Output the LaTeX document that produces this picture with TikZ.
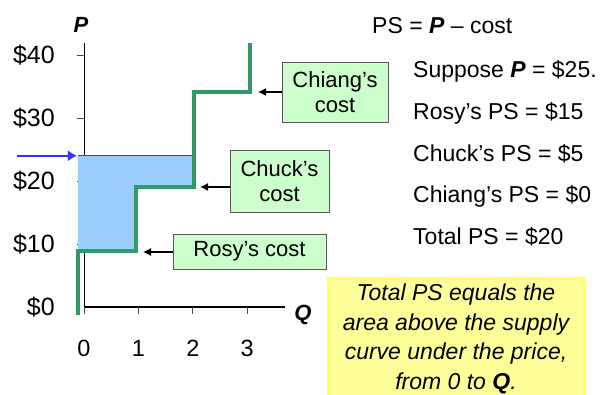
\documentclass[tikz,border=0pt]{standalone}
\usepackage{fontspec}
\setmainfont{Liberation Sans}
\usetikzlibrary{arrows.meta}
\definecolor{supplygreen}{HTML}{339966}
\definecolor{psblue}{HTML}{99CCFF}
\definecolor{priceblue}{HTML}{3333FF}
\definecolor{costgreen}{HTML}{CCFFCC}
\definecolor{noteyellow}{HTML}{FFFF99}
\definecolor{noteedge}{HTML}{FFFF55}

\begin{document}
\begin{tikzpicture}[x=54.4pt, y=6.3pt,
    costbox/.style={draw=black!65, fill=costgreen, align=center, inner sep=0pt,
        font=\fontsize{22}{25.5}\selectfont},
    pointer/.style={line width=1.3pt, -{Latex[length=8pt,width=8pt]}},
    sidetext/.style={anchor=base west, inner sep=0pt, font=\fontsize{23}{27}\selectfont},
    axislabel/.style={inner sep=0pt, font=\fontsize{22}{26}\selectfont\bfseries\itshape}]
    \useasboundingbox (-84pt,-87pt) rectangle (527pt,307pt);

    \draw[line width=0.8pt] (0,0) -- (0,41.9);
    \draw[line width=1.5pt] (0,0) -- (3.69,0);
    \foreach \p in {10,20,30,40}
        \draw[gray!60!black, line width=0.8pt] ([xshift=-7pt]0,\p) -- (0,\p);
    \foreach \p in {0,10,20,30,40}
        \node[anchor=east, inner sep=0pt, font=\fontsize{25}{30}\selectfont]
            (ylab\p) at ([xshift=-29pt]0,\p) {\$\p};
    \foreach \q in {0,...,3} {
        \draw[gray!60!black, line width=0.8pt] ([yshift=-7pt]\q,0) -- (\q,0);
        \node[inner sep=0pt, font=\fontsize{23.5}{28}\selectfont]
            (xlab\q) at ([yshift=-41pt]\q,0) {\q};
    }
    \node[axislabel] (plab) at (-3pt,282pt) {P};
    \node[axislabel] (qlab) at (219pt,-8pt) {Q};

    % surplus area and price
    \fill[psblue] (-0.11,8.9) -- (0.96,8.9) -- (0.96,19) -- (2.03,19)
        -- (2.03,24) -- (-0.11,24) -- cycle;
    \draw[priceblue, line width=0.8pt] (-0.11,24) -- (2.03,24);
    \coordinate (pstart) at ([xshift=-67pt]0,24);
    \coordinate (pend) at ([xshift=-7pt]0,24);
    \draw[priceblue, line width=1.8pt, -{Latex[length=9pt,width=11pt]}] (pstart) -- (pend);

    % supply curve
    \draw[supplygreen, line width=4pt] (-0.11,-1.3) -- (-0.11,8.9) -- (0.96,8.9)
        -- (0.96,19) -- (2.03,19) -- (2.03,34.1) -- (3.06,34.1) -- (3.06,41.9);

    \node[costbox, minimum width=106pt, minimum height=60pt] (chiang) at (251pt,215pt) {Chiang’s\\cost};
    \node[costbox, minimum width=99pt, minimum height=62pt] (chuck) at (195.5pt,126pt) {Chuck’s\\cost};
    \node[costbox, minimum width=153pt, minimum height=35pt] (rosy) at (165.5pt,55.5pt) {Rosy’s cost};
    \coordinate (chiangtip) at (174pt,215pt);
    \coordinate (chucktip) at (116pt,120pt);
    \coordinate (rosytip) at (59pt,55pt);
    \draw[pointer] (chiangtip -| chiang.west) -- (chiangtip);
    \draw[pointer] (chucktip -| chuck.west) -- (chucktip);
    \draw[pointer] (rosytip -| rosy.west) -- (rosytip);

    \node[sidetext] (psdef) at (288pt,273.7pt) {PS = \textbf{\textit{P}} – cost};
    \node[sidetext] (suppose) at (329pt,229.7pt) {Suppose \textbf{\textit{P}} = \$25.};
    \node[sidetext] (rosyps) at (329pt,187pt) {Rosy’s PS = \$15};
    \node[sidetext] (chuckps) at (329pt,145.3pt) {Chuck’s PS = \$5};
    \node[sidetext] (chiangps) at (329pt,104.3pt) {Chiang’s PS = \$0};
    \node[sidetext] (totalps) at (329pt,62.7pt) {Total PS = \$20};

    \node[anchor=north, fill=noteyellow, draw=noteedge, line width=1.5pt,
        minimum width=256pt, minimum height=122pt, inner sep=0pt, align=center,
        font=\fontsize{23}{29.5}\selectfont\itshape] (note) at (372pt,30pt)
        {Total PS equals the\\area above the supply\\curve under the price,\\from 0 to \textbf{Q}.};
\end{tikzpicture}
\end{document}
